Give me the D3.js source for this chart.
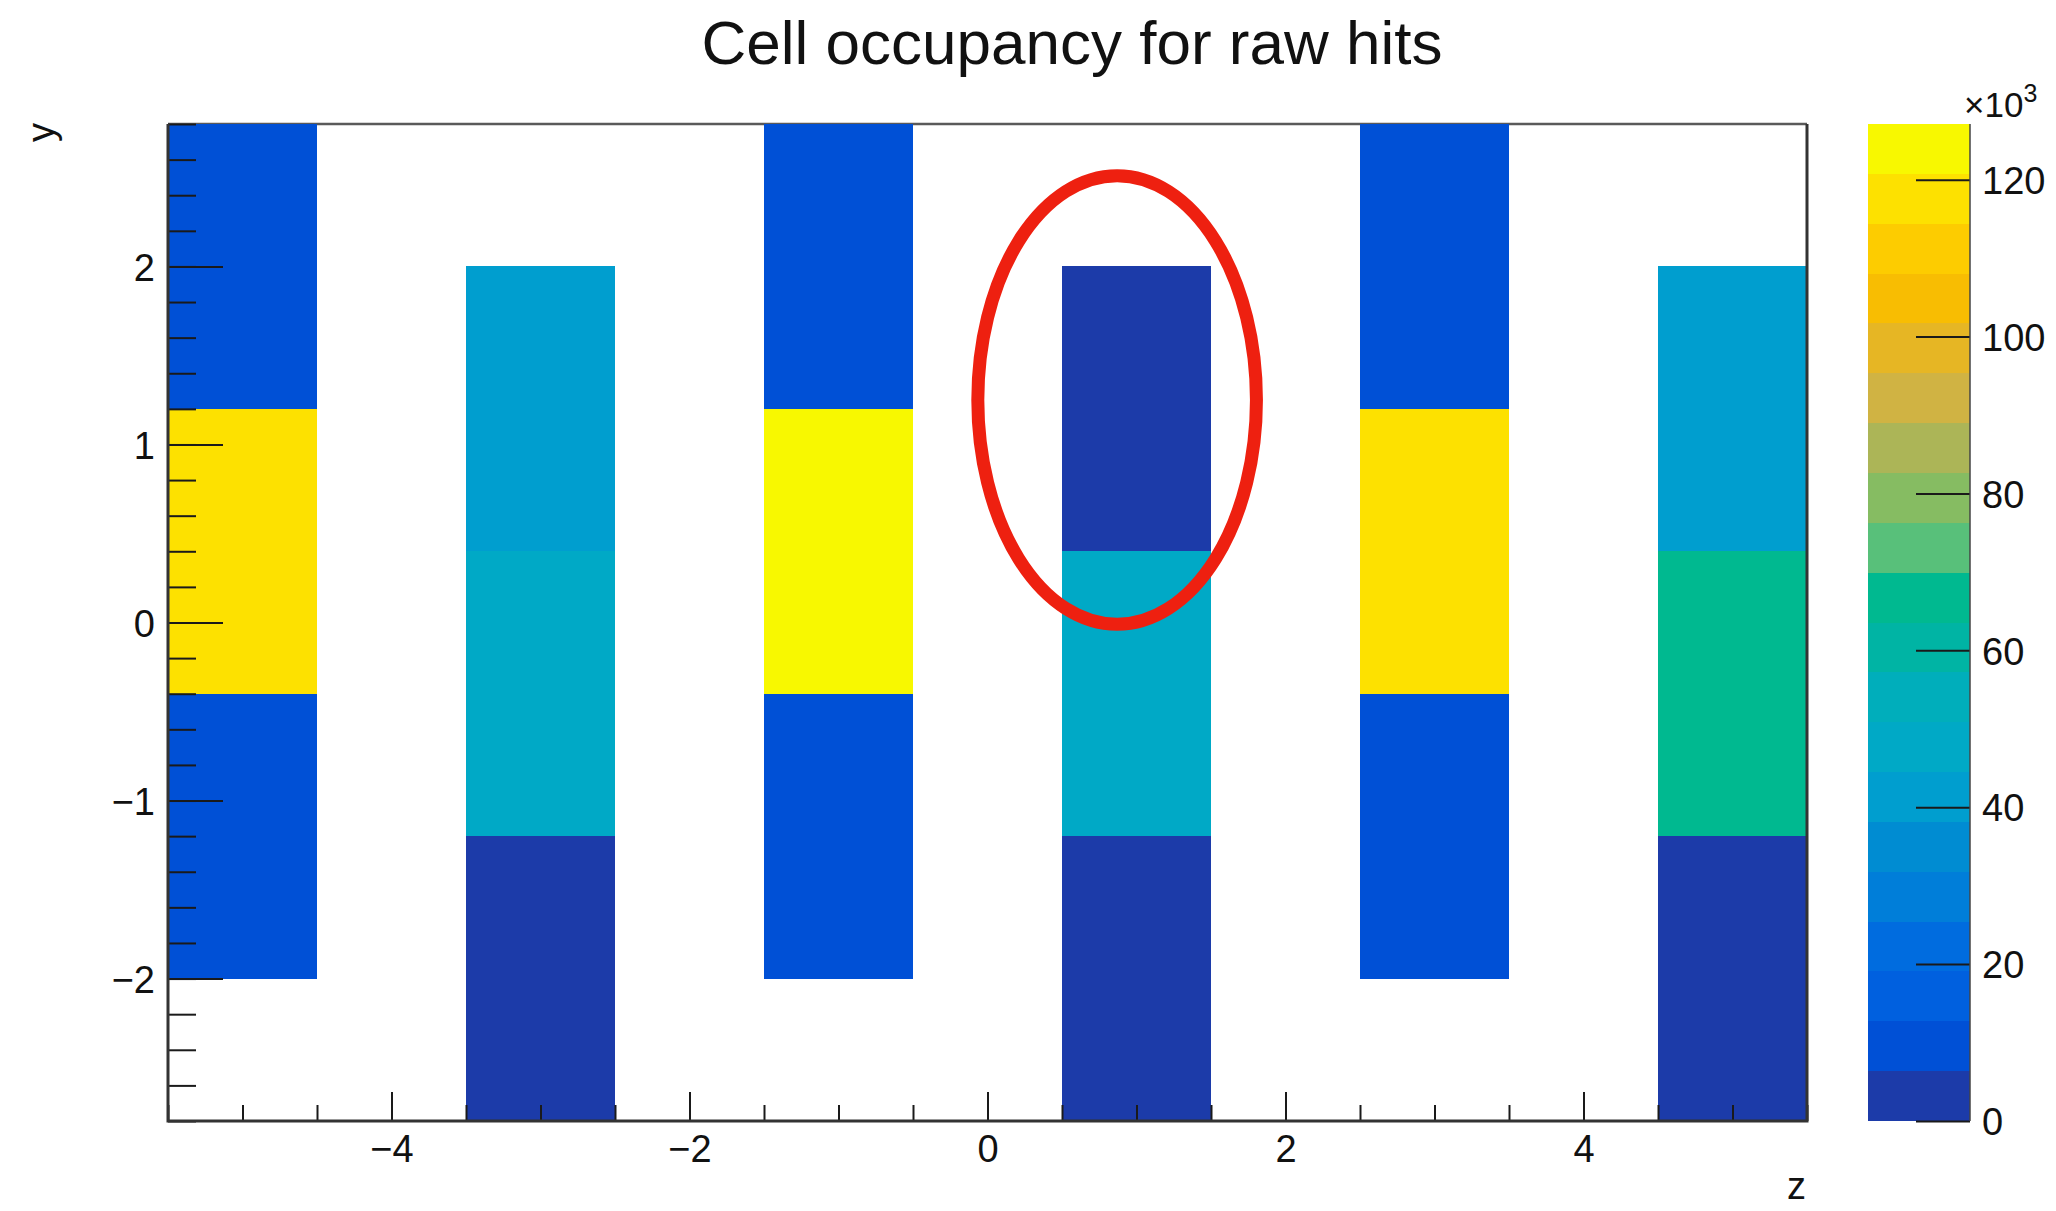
<!DOCTYPE html>
<html>
  <head>
    <script src="https://cdnjs.cloudflare.com/ajax/libs/d3/7.8.5/d3.min.js"></script>
<style>
  body { margin: 0; background: #fff; }
  .label { font-family: "Liberation Sans", Arial, sans-serif; fill: #111; }
</style>
  </head>
  <body>
    <div id="vis"></div>
    <script type="text/javascript">

      // histogram binning (TH2, 11 x 7 bins)
      const zEdges = [-5.5, 5.5];
      const yEdges = [-2.8, 2.8];
      const zBinWidth = 1.0;
      const yBinWidth = 0.8;
      const zMax = 127100;

      // bin centres along y, bottom to top
      const yCentres = [-2.4, -1.6, -0.8, 0.0, 0.8, 1.6, 2.4];
      // filled z columns
      const zColumns = [-5, -3, -1, 1, 3, 5];
      // hit counts per column, one value per y bin (null = empty)
      const hitsZm5 = [null, 9600, 9600, 117600, 117600, 9700, 9700];
      const hitsZm3 = [3100, 3100, 47600, 47600, 41300, 41300, null];
      const hitsZm1 = [null, 9500, 9500, 124600, 124600, 9400, 9400];
      const hitsZp1 = [3000, 3000, 47800, 47800, 2900, 2900, null];
      const hitsZp3 = [null, 9600, 9600, 117900, 117900, 9500, 9500];
      const hitsZp5 = [3100, 3100, 66400, 66400, 41800, 41800, null];
      const hitsByColumn = [hitsZm5, hitsZm3, hitsZm1, hitsZp1, hitsZp3, hitsZp5];

      // 20 contour colours, bottom to top
      const palette = ["#1c3ba9", "#0050d6", "#0060df", "#006cdf", "#007ed9", "#008cd2",
                       "#009ecf", "#00a9c6", "#00aebb", "#00b4a4", "#00b990", "#58c07a",
                       "#86bc62", "#acb557", "#d0b343", "#e6b624", "#f8bd02", "#fdcc00",
                       "#fde100", "#f8f800"];
      const zTicks = [0, 20000, 40000, 60000, 80000, 100000, 120000];

      // annotation ellipse (data coordinates)
      const markCentre = [0.87, 1.25];
      const markRadii = [0.935, 1.26];

      const w = 2056;
      const h = 1211;
      const padL = 168, padR = 1807, padT = 124, padB = 1121;
      const barX0 = 1868, barX1 = 1970;
      const font = '"Liberation Sans", Arial, sans-serif';

      const svg = d3.select("#vis")
          .append("svg")
          .attr("width", w)
          .attr("height", h);

      const xScale = d3.scaleLinear().domain(zEdges).range([padL, padR]);
      const yScale = d3.scaleLinear().domain(yEdges).range([padB, padT]);
      const cScale = d3.scaleLinear().domain([0, zMax]).range([padB, padT]);
      const colour = d3.scaleQuantize().domain([0, zMax]).range(palette);

      // top frame line sits under the cells
      svg.append("line")
          .attr("x1", padL).attr("x2", padR)
          .attr("y1", padT).attr("y2", padT)
          .attr("stroke", "#5a5a5a").attr("stroke-width", 2.5);

      // cells
      const cells = [];
      zColumns.forEach((z, i) => {
          hitsByColumn[i].forEach((v, j) => {
              if (v !== null) cells.push({z: z, y: yCentres[j], v: v});
          });
      });
      svg.append("g").selectAll("rect")
          .data(cells)
          .join("rect")
          .attr("x", d => xScale(d.z - zBinWidth / 2))
          .attr("y", d => yScale(d.y + yBinWidth / 2))
          .attr("width", d => xScale(d.z + zBinWidth / 2) - xScale(d.z - zBinWidth / 2))
          .attr("height", d => yScale(d.y - yBinWidth / 2) - yScale(d.y + yBinWidth / 2))
          .attr("fill", d => colour(d.v))
          .attr("shape-rendering", "crispEdges");

      function styleAxis(g) {
          g.select(".domain").remove();
          g.selectAll("line").attr("stroke", "#1a1a1a").attr("stroke-width", 2);
          g.selectAll("text").attr("font-family", font).attr("font-size", 38).attr("fill", "#111");
      }
      const fmt = d => (d < 0 ? "\u2212" : "") + Math.abs(d);

      // x axis
      svg.append("g")
          .attr("transform", "translate(0," + padB + ")")
          .call(d3.axisBottom(xScale).tickValues(d3.range(-5.5, 5.51, 0.5)).tickSize(-16).tickFormat(""))
          .call(styleAxis);
      svg.append("g")
          .attr("transform", "translate(0," + padB + ")")
          .call(d3.axisBottom(xScale).tickValues([-4, -2, 0, 2, 4]).tickSize(-29).tickPadding(14).tickFormat(fmt))
          .call(styleAxis);

      // y axis
      svg.append("g")
          .attr("transform", "translate(" + padL + ",0)")
          .call(d3.axisLeft(yScale).tickValues(d3.range(-2.8, 2.81, 0.2)).tickSize(-28).tickFormat(""))
          .call(styleAxis);
      svg.append("g")
          .attr("transform", "translate(" + padL + ",0)")
          .call(d3.axisLeft(yScale).tickValues([-2, -1, 0, 1, 2]).tickSize(-55).tickPadding(13).tickFormat(fmt))
          .call(styleAxis)
          .selectAll("text").attr("dy", "0.36em");

      // frame
      svg.append("path")
          .attr("d", `M${padR},${padT}V${padB}H${padL}V${padT}`)
          .attr("fill", "none")
          .attr("stroke", "#333")
          .attr("stroke-width", 3);

      // colour bar
      svg.append("g").selectAll("rect")
          .data(palette)
          .join("rect")
          .attr("x", barX0)
          .attr("width", barX1 - barX0)
          .attr("y", (d, i) => cScale((i + 1) * zMax / palette.length))
          .attr("height", cScale(0) - cScale(zMax / palette.length))
          .attr("fill", d => d)
          .attr("shape-rendering", "crispEdges");
      svg.append("g")
          .attr("transform", "translate(" + barX1 + ",0)")
          .call(d3.axisRight(cScale).tickValues(zTicks).tickSize(-54).tickPadding(12).tickFormat(d => d / 1000))
          .call(styleAxis)
          .selectAll("text").attr("dy", "0.36em");
      svg.append("line")
          .attr("x1", barX1).attr("x2", barX1)
          .attr("y1", padT).attr("y2", padB)
          .attr("stroke", "#444").attr("stroke-width", 1.5);

      const exp = svg.append("text")
          .attr("class", "label")
          .attr("x", 1964).attr("y", 117)
          .attr("font-size", 35);
      exp.append("tspan").text("\u00d710");
      exp.append("tspan").attr("dy", -15).attr("font-size", 25).text("3");

      // titles
      svg.append("text")
          .attr("class", "label")
          .attr("x", 1072).attr("y", 64)
          .attr("text-anchor", "middle")
          .attr("font-size", 62)
          .text("Cell occupancy for raw hits");
      svg.append("text")
          .attr("class", "label")
          .attr("transform", "translate(54," + (padT - 1) + ") rotate(-90)")
          .attr("text-anchor", "end")
          .attr("font-size", 38)
          .text("y");
      svg.append("text")
          .attr("class", "label")
          .attr("x", padR - 1).attr("y", 1199)
          .attr("text-anchor", "end")
          .attr("font-size", 38)
          .text("z");

      // red mark
      svg.append("ellipse")
          .attr("cx", xScale(markCentre[0]))
          .attr("cy", yScale(markCentre[1]))
          .attr("rx", xScale(markCentre[0] + markRadii[0]) - xScale(markCentre[0]))
          .attr("ry", yScale(markCentre[1] - markRadii[1]) - yScale(markCentre[1]))
          .attr("fill", "none")
          .attr("stroke", "#ee2010")
          .attr("stroke-width", 13);

    </script>
  </body>
</html>
